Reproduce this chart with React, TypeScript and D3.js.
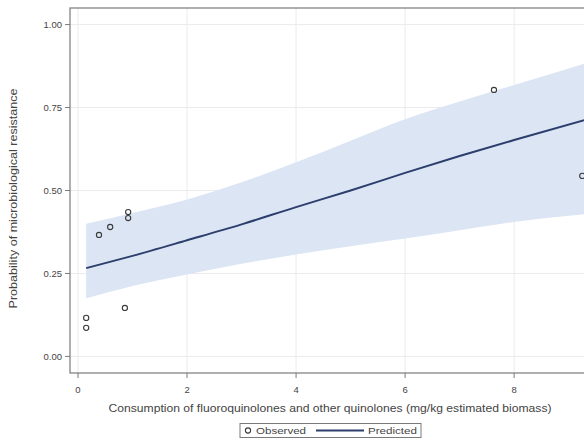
import * as d3 from 'd3';

// observed points
const obsX = [0.15, 0.15, 0.86, 0.385, 0.59, 0.92, 0.92, 7.63, 9.25];
const obsY = [0.086, 0.116, 0.146, 0.366, 0.39, 0.435, 0.417, 0.803, 0.544];

// predicted curve with confidence band
const predX = [0.15, 1, 2, 3, 4, 5, 6, 7, 8, 9.4];
const predY = [0.266, 0.303, 0.35, 0.398, 0.45, 0.5, 0.553, 0.604, 0.652, 0.717];
const upper = [0.4, 0.432, 0.473, 0.525, 0.585, 0.65, 0.715, 0.768, 0.818, 0.888];
const lower = [0.175, 0.212, 0.247, 0.279, 0.307, 0.332, 0.355, 0.38, 0.405, 0.43];

const xTicks = [0, 2, 4, 6, 8];
const yTicks = [0, 0.25, 0.5, 0.75, 1];

const xTitle = 'Consumption of fluoroquinolones and other quinolones (mg/kg estimated biomass)';
const yTitle = 'Probability of microbiological resistance';

export default function App() {
  const width = 584;
  const height = 441;
  const left = 70, top = 8, bottom = 373, right = 591;

  const x = d3.scaleLinear().domain([-0.147, 9.41]).range([left, right]);
  const y = d3.scaleLinear().domain([-0.05, 1.05]).range([bottom, top]);

  const pred = predX.map((v, i) => ({ x: v, y: predY[i], lo: lower[i], hi: upper[i] }));

  const band = d3.area<typeof pred[0]>()
    .x(d => x(d.x))
    .y0(d => y(d.lo))
    .y1(d => y(d.hi))
    .curve(d3.curveMonotoneX);
  const line = d3.line<typeof pred[0]>()
    .x(d => x(d.x))
    .y(d => y(d.y))
    .curve(d3.curveMonotoneX);

  const font = 'Liberation Sans, Arial, sans-serif';
  const textCol = '#444';

  return (
    <svg width={width} height={height} style={{ position: 'absolute', left: 0, top: 0, background: '#fff' }}>
      <defs>
        <clipPath id="plot">
          <rect x={left} y={top} width={right - left} height={bottom - top} />
        </clipPath>
      </defs>

      {/* grid */}
      {xTicks.map(t => (
        <line key={'gx' + t} x1={x(t)} x2={x(t)} y1={top} y2={bottom} stroke="#ebebeb" />
      ))}
      {yTicks.map(t => (
        <line key={'gy' + t} x1={left} x2={right} y1={y(t)} y2={y(t)} stroke="#ebebeb" />
      ))}

      <g clipPath="url(#plot)">
        <path d={band(pred) ?? ''} fill="#dce5f4" />
        <path d={line(pred) ?? ''} fill="none" stroke="#2c3e6c" strokeWidth={2} />
        {obsX.map((v, i) => (
          <circle key={i} cx={x(v)} cy={y(obsY[i])} r={2.6} fill="none" stroke="#3a3a3a" strokeWidth={1.1} />
        ))}
      </g>

      {/* frame */}
      <rect x={left} y={top} width={right - left} height={bottom - top} fill="none" stroke="#7a7a7a" strokeWidth={1.2} />

      {/* y axis */}
      {yTicks.map(t => (
        <g key={'yt' + t}>
          <line x1={left - 5} x2={left} y1={y(t)} y2={y(t)} stroke="#7a7a7a" />
          <text x={left - 8} y={y(t)} dy="0.35em" textAnchor="end" fontSize={9.5} fill={textCol} fontFamily={font}>
            {d3.format('.2f')(t)}
          </text>
        </g>
      ))}
      <text
        transform={`translate(17,${(top + bottom) / 2 + 8}) rotate(-90)`}
        textAnchor="middle" fontSize={10} fill={textCol} fontFamily={font}
        textLength={220} lengthAdjust="spacingAndGlyphs"
      >
        {yTitle}
      </text>

      {/* x axis */}
      {xTicks.map(t => (
        <g key={'xt' + t}>
          <line x1={x(t)} x2={x(t)} y1={bottom} y2={bottom + 5} stroke="#7a7a7a" />
          <text x={x(t)} y={bottom + 20} textAnchor="middle" fontSize={9.5} fill={textCol} fontFamily={font}>
            {t}
          </text>
        </g>
      ))}
      <text x={330} y={412} textAnchor="middle" fontSize={10} fill={textCol} fontFamily={font}
        textLength={443} lengthAdjust="spacingAndGlyphs">
        {xTitle}
      </text>

      {/* legend */}
      <rect x={240} y={423.5} width={181} height={14} fill="#fff" stroke="#7a7a7a" />
      <circle cx={248} cy={430.5} r={2.6} fill="none" stroke="#3a3a3a" strokeWidth={1.1} />
      <text x={256} y={434} fontSize={9.5} fill={textCol} fontFamily={font} textLength={50} lengthAdjust="spacingAndGlyphs">Observed</text>
      <line x1={316} x2={364} y1={430.5} y2={430.5} stroke="#2c3e6c" strokeWidth={2} />
      <text x={368} y={434} fontSize={9.5} fill={textCol} fontFamily={font} textLength={49} lengthAdjust="spacingAndGlyphs">Predicted</text>
    </svg>
  );
}
